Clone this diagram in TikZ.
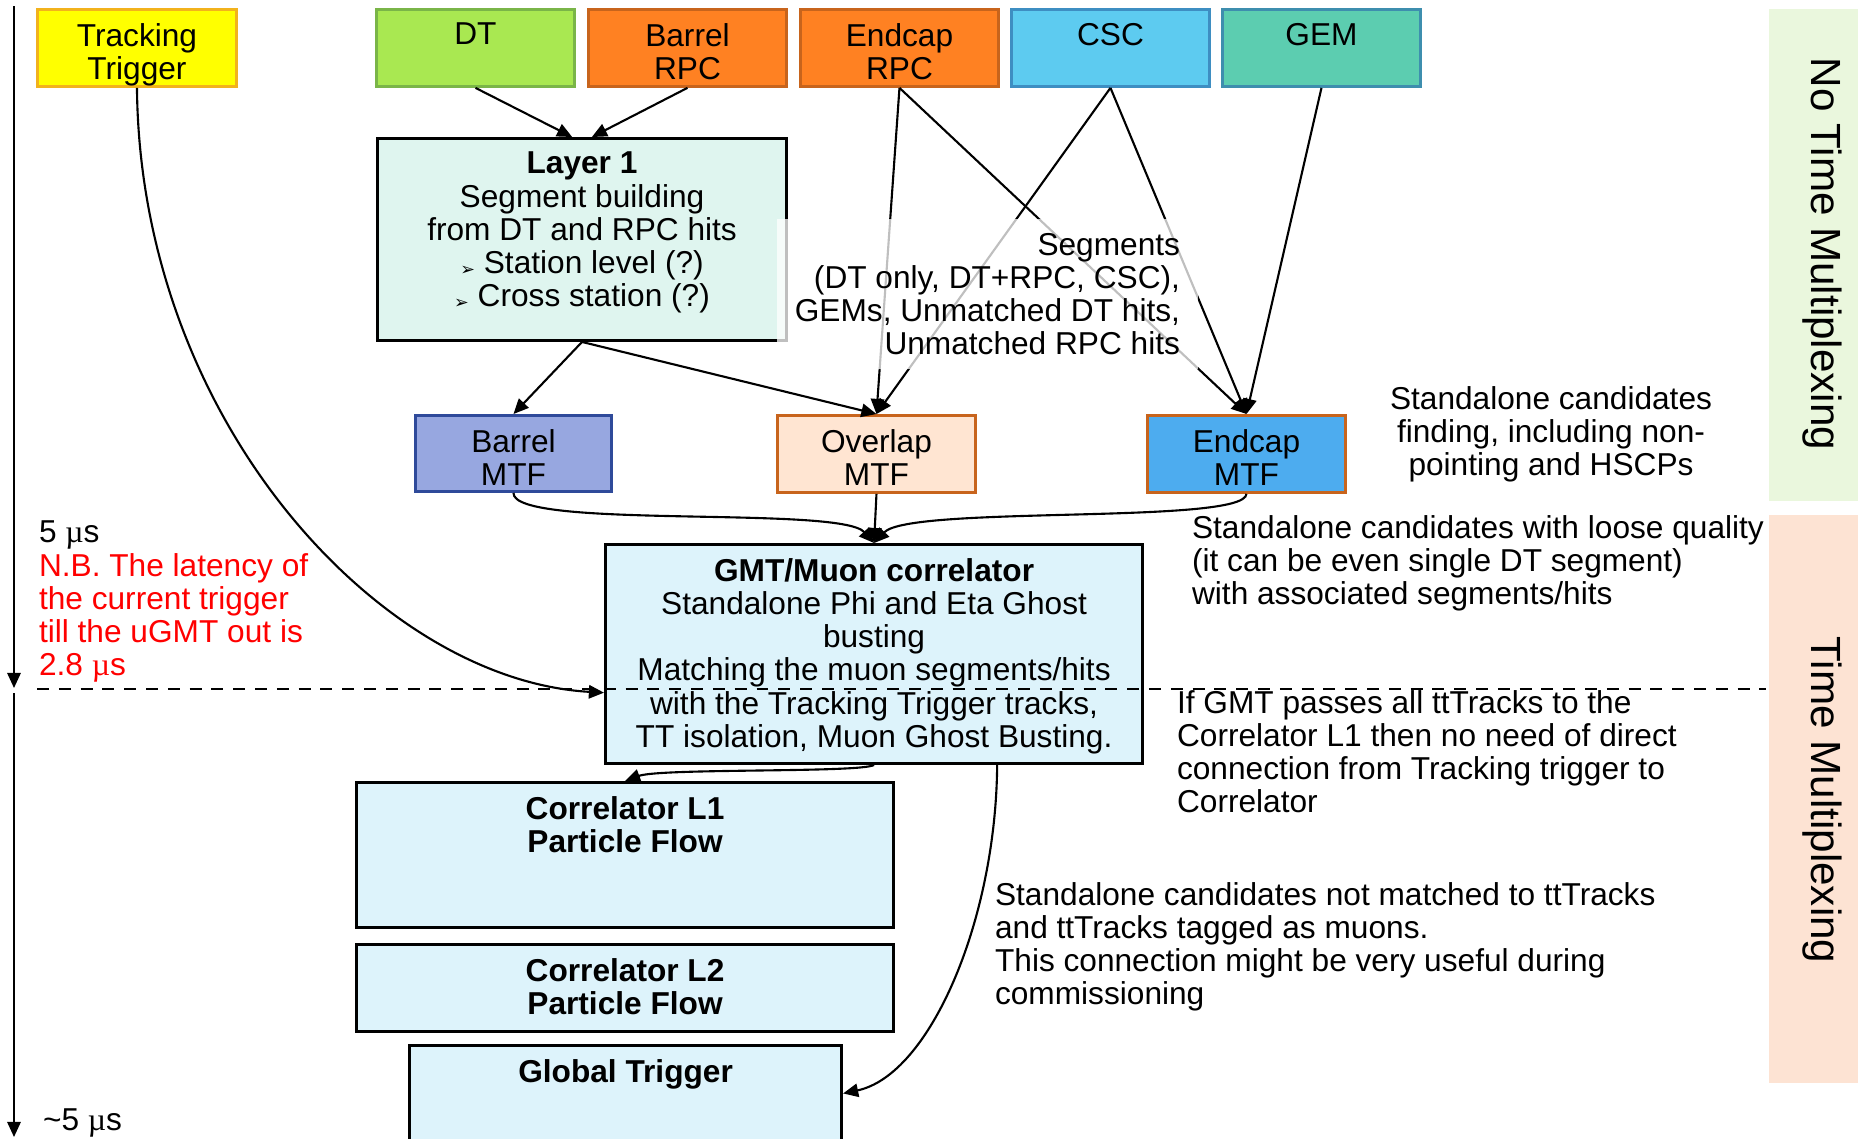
\documentclass[tikz,border=0pt]{standalone}
\usepackage{fontspec}
\setmainfont{Liberation Sans}
\newfontfamily\symfont{DejaVu Sans}
\newfontfamily\mufont{Liberation Serif}
\usetikzlibrary{arrows.meta}

\definecolor{ttfill}{HTML}{FFFF00}
\definecolor{ttline}{HTML}{F2B21C}
\definecolor{dtfill}{HTML}{A9E851}
\definecolor{dtline}{HTML}{7AB548}
\definecolor{rpcfill}{HTML}{FF8122}
\definecolor{rpcline}{HTML}{C8641C}
\definecolor{cscfill}{HTML}{5DCBF0}
\definecolor{cscline}{HTML}{3E8EC2}
\definecolor{gemfill}{HTML}{5CCDB0}
\definecolor{gemline}{HTML}{3E8EAE}
\definecolor{lonefill}{HTML}{DFF5EF}
\definecolor{bmtffill}{HTML}{97A7E0}
\definecolor{bmtfline}{HTML}{2F4A9A}
\definecolor{omtffill}{HTML}{FFE5D2}
\definecolor{emtffill}{HTML}{4DACEF}
\definecolor{corrfill}{HTML}{DDF3FB}
\definecolor{nomuxfill}{HTML}{EAF7DD}
\definecolor{muxfill}{HTML}{FDE3D3}

\newcommand{\bul}{\raisebox{-0.6pt}{\symfont\fontsize{5}{5}\selectfont ➢}}
\newcommand{\us}{{\mufont µ}s}

\begin{document}
\begin{tikzpicture}[x=0.01cm, y=-0.01cm, line width=0.6pt,
    font=\fontsize{9}{9.45}\selectfont,
    box/.style={draw, line width=0.8pt, anchor=north west, inner sep=0pt},
    txt/.style={label={[anchor=north, align=center, inner sep=4pt]north:{#1}}},
    arr/.style={-{Triangle[length=4.3pt, width=3.8pt]}},
    note/.style={align=left, anchor=north west, inner sep=0pt}]

    \useasboundingbox (0,0) rectangle (1858,1138);

    % draw multiplexing bands
    \fill[nomuxfill] (1769,9) rectangle (1858,501);
    \fill[muxfill] (1769,515) rectangle (1858,1083);
    \node[rotate=-90, font=\fontsize{12}{14}\selectfont] (nomux) at (1822,254) {No Time Multiplexing};
    \node[rotate=-90, font=\fontsize{12}{14}\selectfont] (mux) at (1822,800) {Time Multiplexing};

    % draw detector inputs
    \node[box, minimum width=1.99cm, minimum height=0.77cm, fill=ttfill, draw=ttline, txt={Tracking\\Trigger}] (tt) at (36,8) {};
    \node[box, minimum width=1.98cm, minimum height=0.77cm, fill=dtfill, draw=dtline, txt={DT}] (dt) at (375,8) {};
    \node[box, minimum width=1.98cm, minimum height=0.77cm, fill=rpcfill, draw=rpcline, txt={Barrel\\RPC}] (brpc) at (587,8) {};
    \node[box, minimum width=1.98cm, minimum height=0.77cm, fill=rpcfill, draw=rpcline, txt={Endcap\\RPC}] (erpc) at (799,8) {};
    \node[box, minimum width=1.98cm, minimum height=0.77cm, fill=cscfill, draw=cscline, txt={CSC}] (csc) at (1010,8) {};
    \node[box, minimum width=1.98cm, minimum height=0.77cm, fill=gemfill, draw=gemline, txt={GEM}] (gem) at (1221,8) {};

    % draw layer 1 and track finders
    \node[box, minimum width=4.09cm, minimum height=2.02cm, fill=lonefill, txt={\textbf{Layer 1}\\Segment building\\from DT and RPC hits\\\bul\ Station level (?)\\\bul\ Cross station (?)}] (l1) at (376,137) {};
    \node[box, minimum width=1.96cm, minimum height=0.76cm, fill=bmtffill, draw=bmtfline, txt={Barrel\\MTF}] (bmtf) at (414,414) {};
    \node[box, minimum width=1.98cm, minimum height=0.77cm, fill=omtffill, draw=rpcline, txt={Overlap\\MTF}] (omtf) at (776,414) {};
    \node[box, minimum width=1.98cm, minimum height=0.77cm, fill=emtffill, draw=rpcline, txt={Endcap\\MTF}] (emtf) at (1146,414) {};

    % draw correlator chain
    \node[box, minimum width=5.37cm, minimum height=2.19cm, fill=corrfill, txt={\textbf{GMT/Muon correlator}\\Standalone Phi and Eta Ghost\\busting\\Matching the muon segments/hits\\with the Tracking Trigger tracks,\\TT isolation, Muon Ghost Busting.}] (gmt) at (604,543) {};
    \node[box, minimum width=5.37cm, minimum height=1.45cm, fill=corrfill, txt={\textbf{Correlator L1}\\\textbf{Particle Flow}}] (cl1) at (355,781) {};
    \node[box, minimum width=5.37cm, minimum height=0.87cm, fill=corrfill, txt={\textbf{Correlator L2}\\\textbf{Particle Flow}}] (cl2) at (355,943) {};
    \node[box, minimum width=4.32cm, minimum height=0.96cm, fill=corrfill, txt={\textbf{Global Trigger}}] (gt) at (408,1044) {};

    % draw connections
    \draw[arr] (dt.south) -- ([xshift=-2.8pt]l1.north);
    \draw[arr] (brpc.south) -- ([xshift=2.8pt]l1.north);
    \draw[arr] (l1.south) -- (bmtf.north);
    \draw[arr] (l1.south) -- (omtf.north);
    \draw[arr] (erpc.south) -- (omtf.north);
    \draw[arr] (erpc.south) -- (emtf.north);
    \draw[arr] (csc.south) -- (omtf.north);
    \draw[arr] (csc.south) -- (emtf.north);
    \draw[arr] (gem.south) -- (emtf.north);
    \draw[arr] (bmtf.south) .. controls (512,530) and (840,505) .. (gmt.north);
    \draw[arr] (omtf.south) -- (gmt.north);
    \draw[arr] (emtf.south) .. controls (1245,525) and (910,505) .. (gmt.north);
    \draw[arr] (tt.south) .. controls (140,420) and (380,680) .. ([yshift=-11pt]gmt.west);
    \draw[arr] (gmt.south) .. controls (860,773) and (660,768) .. (cl1.north);
    \draw[arr] ([xshift=35pt]gmt.south) .. controls (996,920) and (930,1075) .. (gt.east);

    % segments label over the lines
    \node[fill=white, fill opacity=0.75, text opacity=1, align=right, anchor=north east, inner xsep=5.1pt, inner ysep=4pt] (seg) at (1199,218) {Segments\\(DT only, DT+RPC, CSC),\\GEMs, Unmatched DT hits,\\Unmatched RPC hits};

    % draw time axis
    \coordinate (t0) at (14,6);
    \coordinate (t1) at (14,688);
    \coordinate (t2) at (14,693);
    \coordinate (t3) at (14,1137);
    \draw[arr] (t0) -- (t1);
    \draw[arr] (t2) -- (t3);
    \coordinate (d0) at (37,689);
    \coordinate (d1) at (1766,689);
    \draw[line width=0.5pt, dash pattern=on 3.4pt off 2.8pt] (d0) -- (d1);

    % notes
    \node[note] (five) at (38,520) {5 \us};
    \node[note, text=red] (nb) at (38,552) {N.B. The latency of\\the current trigger\\till the uGMT out is\\2.8 \us};
    \node[note] (approx) at (42,1108) {\textasciitilde5 \us};
    \node[align=center, anchor=north, inner sep=0pt] (sacand) at (1551,385) {Standalone candidates\\finding, including non-\\pointing and HSCPs};
    \node[note] (loose) at (1191,514) {Standalone candidates with loose quality\\(it can be even single DT segment)\\with associated segments/hits};
    \node[note] (ifgmt) at (1176,689) {If GMT passes all ttTracks to the\\Correlator L1 then no need of direct\\connection from Tracking trigger to\\Correlator};
    \node[note] (unmatched) at (994,881) {Standalone candidates not matched to ttTracks\\and ttTracks tagged as muons.\\This connection might be very useful during\\commissioning};

\end{tikzpicture}
\end{document}
